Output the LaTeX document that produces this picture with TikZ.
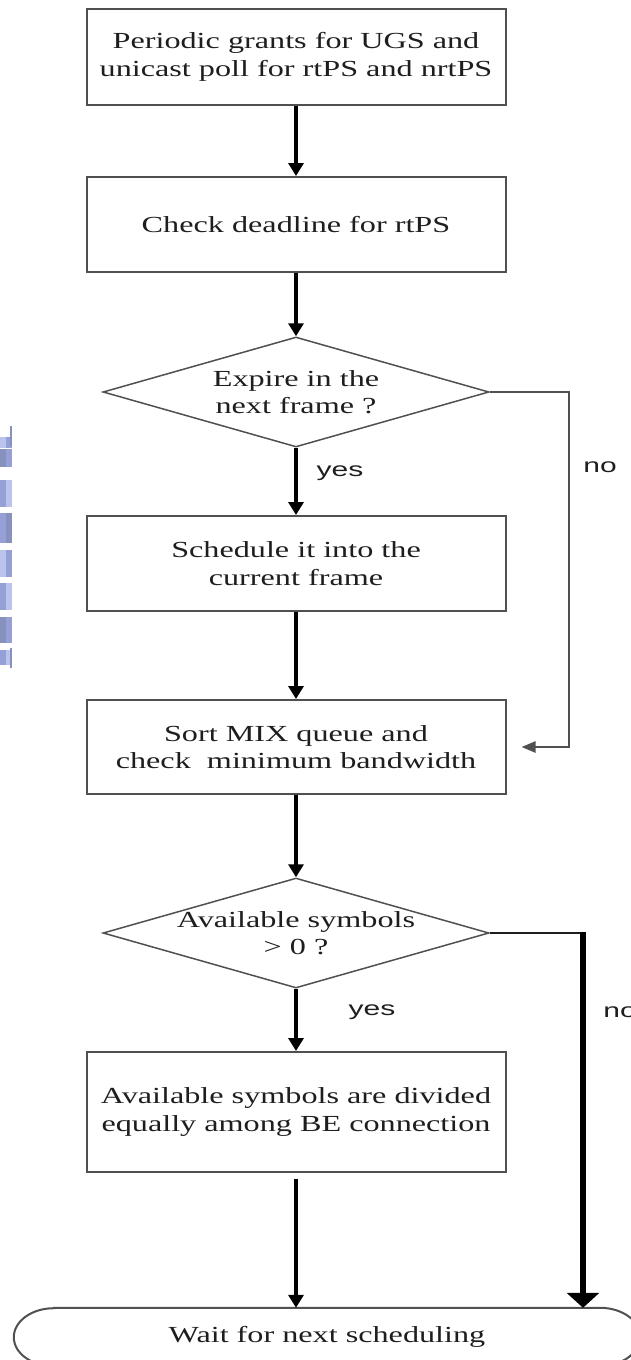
\documentclass[tikz,border=0pt]{standalone}
\usepackage{fontspec}
\setmainfont{Liberation Serif}[FakeStretch=1.4]
\newfontfamily\lblfont{Liberation Sans}[FakeStretch=1.5]
\usetikzlibrary{arrows.meta,shapes.geometric}
\definecolor{edge}{RGB}{80,80,80}
\definecolor{ink}{RGB}{30,30,30}
\definecolor{slideA}{RGB}{150,160,215}
\definecolor{slideB}{RGB}{185,195,235}
\definecolor{slideC}{RGB}{135,145,190}
\begin{document}
\begin{tikzpicture}[x=1pt,y=-1pt,
  txt/.style={font=\fontsize{23}{27.5}\selectfont, text=ink, align=center, inner sep=0pt},
  procbox/.style={draw=edge, line width=2pt, minimum width=419pt, inner sep=0pt},
  decision/.style={diamond, draw=edge, line width=1.5pt, minimum width=386pt, minimum height=110pt, inner sep=0pt},
  flow/.style={line width=4pt, -{Triangle[width=15pt,length=13pt]}},
  branch/.style={draw=edge, line width=2.5pt},
  lbl/.style={font=\lblfont\fontsize{20}{24}\selectfont, text=ink, inner sep=0pt}]

\useasboundingbox (0,0) rectangle (630,1360);

% strip of a slide decoration along the left edge
\foreach \ya/\yb/\ca/\cb in {437/448/slideB/slideA, 449/467/slideC/slideA, 480/507/slideA/slideB,
  513/543/slideA/slideC, 550/577/slideB/slideA, 583/610/slideA/slideB, 617/643/slideC/slideA, 650/665/slideA/slideB}{
  \fill[\ca] (0,\ya) rectangle (6,\yb);
  \fill[\cb] (6,\ya) rectangle (12,\yb);
}
\fill[slideC] (10,426) rectangle (12,446);
\fill[slideC] (10,648) rectangle (12,668);

% process steps
\node[procbox, minimum height=96pt, txt] (b1) at (296,57)
  {Periodic grants for UGS and\\unicast poll for rtPS and nrtPS};
\node[procbox, minimum height=95pt, txt] (b2) at (296,224.5)
  {Check deadline for rtPS};
\node[decision] (d1) at (296,392) {};
\node[txt] (d1t) at (d1) {Expire in the\\next frame ?};
\node[procbox, minimum height=95pt, txt] (b3) at (296,563.5)
  {Schedule it into the\\current frame};
\node[procbox, minimum height=94pt, txt] (b4) at (296,747)
  {Sort MIX queue and\\check~ minimum bandwidth};
\node[decision] (d2) at (296,933) {};
\node[txt] (d2t) at (d2) {Available symbols\\> 0 ?};
\node[procbox, minimum height=120pt, txt] (b5) at (296,1112)
  {Available symbols are divided\\equally among BE connection};
\node[txt, minimum width=626pt, minimum height=58pt] (term) at (327,1337)
  {Wait for next scheduling};
\draw[draw=edge, line width=2pt]
  ([xshift=40pt]term.north west) -- ([xshift=-40pt]term.north east)
  arc[start angle=90, end angle=-90, x radius=40pt, y radius=29pt]
  -- ([xshift=40pt]term.south west)
  arc[start angle=270, end angle=90, x radius=40pt, y radius=29pt] -- cycle;

% main flow
\draw[flow] (b1) -- (b2);
\draw[flow] (b2) -- (d1);
\draw[flow] (d1) -- (b3);
\draw[flow] (b3) -- (b4);
\draw[flow] (b4) -- (d2);
\draw[flow] (d2) -- (b5);
\draw[flow, shorten <=6pt] (b5.south) -- (b5.south |- term.north);

% "no" branches
\coordinate (n1) at (569,392);
\draw[branch, -{Triangle[width=11pt,length=14pt]}] (d1.east) -- (n1) |- ([xshift=15pt]b4.east);
\coordinate (n2) at (583,933);
\draw[line width=2.5pt, ink] (d2.east) -- (n2);
\draw[line width=6pt, black, -{Triangle[width=32pt,length=15pt]}] ([yshift=1.25pt]n2) -- (n2 |- term.north);

% branch labels
\node[lbl] (yes1) at (340,473) {yes};
\node[lbl] (no1) at (600,467) {no};
\node[lbl] (yes2) at (372,1012) {yes};
\node[lbl] (no2) at (620,1012) {no};
\end{tikzpicture}
\end{document}
